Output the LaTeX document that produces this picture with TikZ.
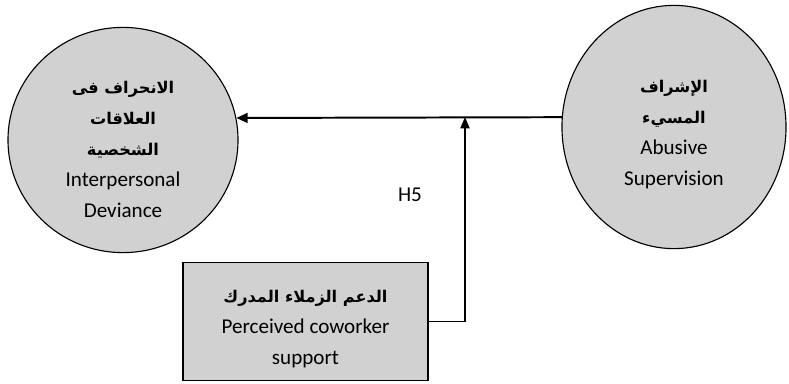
\documentclass[tikz,border=0pt]{standalone}
\usepackage{fontspec}
\setmainfont{Carlito}
\newfontfamily\arabicfont[Script=Arabic]{DejaVu Sans}
\TeXXeTstate=1
\usetikzlibrary{shapes.geometric,arrows.meta}
\newcommand{\artxt}[1]{{\arabicfont\bfseries\fontsize{11.5}{19}\selectfont\beginR #1\endR}}
\tikzset{
  construct/.style={ellipse, draw, line width=0.8pt, fill=black!18, align=center,
    inner sep=0pt, font=\fontsize{15}{22}\selectfont},
  moderator/.style={rectangle, draw, line width=0.8pt, fill=black!18, align=center,
    inner sep=0pt, font=\fontsize{15}{22}\selectfont},
  mainpath/.style={line width=1.4pt, -{Triangle[length=8pt,width=7pt]}},
  modpath/.style={line width=0.9pt, -{Triangle[length=8pt,width=6.5pt]}}
}
\begin{document}
\begin{tikzpicture}[x=0.025cm, y=-0.025cm]
    \useasboundingbox (0,0) rectangle (789,383);
    \node[construct, minimum width=5.75cm, minimum height=5.63cm] (dev) at (123,140)
      {\rule{0pt}{22pt}\artxt{الانحراف فى}\\ \artxt{العلاقات}\\ \artxt{الشخصية}\\ Interpersonal\\ Deviance};
    \node[construct, minimum width=5.6cm, minimum height=6.08cm] (sup) at (674,127)
      {\rule{0pt}{20pt}\artxt{الإشراف}\\ \artxt{المسيء}\\ Abusive\\ Supervision};
    \node[moderator, minimum width=6.125cm, minimum height=2.93cm] (pcs) at (305.5,321.5)
      {\rule{0pt}{19pt}\artxt{الدعم الزملاء المدرك}\\ Perceived coworker\\ support};
    \coordinate (junc) at (465,117);
    \draw[mainpath] (sup.175) -- (dev.11.5);
    \draw[modpath] (pcs.east) -| (junc);
    \node[font=\fontsize{15}{18}\selectfont] (h5) at (410,195) {H5};
\end{tikzpicture}
\end{document}
